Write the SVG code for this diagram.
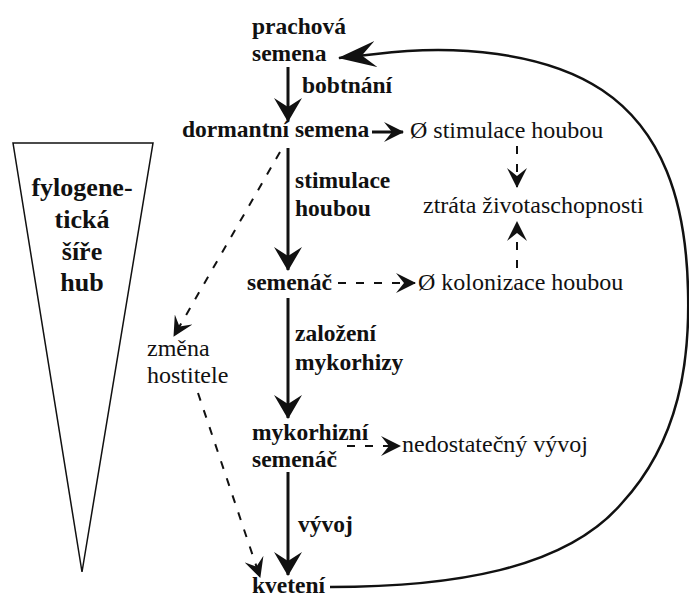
<svg xmlns="http://www.w3.org/2000/svg" width="689" height="598" viewBox="0 0 689 598">
<defs>
<marker id="ahBig" viewBox="0 0 24 28" refX="23" refY="14" markerWidth="24" markerHeight="28" markerUnits="userSpaceOnUse" orient="auto">
<path d="M0,0 L24,14 L0,28 L9,14 Z" fill="#111"/>
</marker>
<marker id="ahCurve" viewBox="0 0 38 26" refX="37" refY="13" markerWidth="38" markerHeight="26" markerUnits="userSpaceOnUse" orient="auto">
<path d="M0,0 L38,13 L0,26 L14,13 Z" fill="#111"/>
</marker>
<marker id="ahDash" viewBox="0 0 20 20" refX="19" refY="10" markerWidth="20" markerHeight="20" markerUnits="userSpaceOnUse" orient="auto">
<path d="M0,0 L20,10 L0,20 L8,10 Z" fill="#111"/>
</marker>
</defs>
<style>
text{fill:#111;}
.b{font-weight:bold;font-size:23.5px;}
.r{font-size:24px;}
.t{font-weight:bold;font-size:26px;text-anchor:middle;}
.solid{stroke:#111;stroke-width:3;fill:none;}
.dash{stroke:#111;stroke-width:2;fill:none;stroke-dasharray:8,10;}
.curve{stroke:#111;stroke-width:2.5;fill:none;}
</style>
<rect width="689" height="598" fill="#fff"/>
<g font-family="'Liberation Serif', 'DejaVu Serif', serif">
<g id="triangle">
<polygon points="13,143 153,143 82,572" fill="#fff" stroke="#111" stroke-width="1.5"/>
<text class="t" x="82" y="196">fylogene-</text>
<text class="t" x="82" y="228">tická</text>
<text class="t" x="82" y="260">šíře</text>
<text class="t" x="82" y="291">hub</text>
</g>
<g id="prachova-semena">
<text class="b" x="252" y="34">prachová</text>
<text class="b" x="252" y="61">semena</text>
</g>
<g id="dormantni-semena"><text class="b" x="182" y="137">dormantní semena</text></g>
<g id="stimulace-none"><text class="r" x="410" y="138">Ø stimulace houbou</text></g>
<g id="ztrata"><text class="r" x="423" y="213">ztráta životaschopnosti</text></g>
<g id="semenac"><text class="b" x="247" y="290">semenáč</text></g>
<g id="kolonizace-none"><text class="r" x="418" y="290">Ø kolonizace houbou</text></g>
<g id="zmena-hostitele">
<text class="r" x="147" y="356">změna</text>
<text class="r" x="147" y="383">hostitele</text>
</g>
<g id="mykorhizni-semenac">
<text class="b" x="252" y="440">mykorhizní</text>
<text class="b" x="252" y="467">semenáč</text>
</g>
<g id="nedostatecny"><text class="r" x="402" y="452">nedostatečný vývoj</text></g>
<g id="kveteni"><text class="b" x="252" y="593">kvetení</text></g>
<g id="edge-labels">
<text class="b" x="302" y="93">bobtnání</text>
<text class="b" x="295" y="188">stimulace</text>
<text class="b" x="295" y="216">houbou</text>
<text class="b" x="295" y="341">založení</text>
<text class="b" x="295" y="370">mykorhizy</text>
<text class="b" x="298" y="532">vývoj</text>
</g>
</g>
<g id="connectors">
<line class="solid" x1="288" y1="67" x2="288" y2="121" marker-end="url(#ahBig)"/>
<line class="solid" x1="288" y1="148" x2="288" y2="270" marker-end="url(#ahBig)"/>
<line class="solid" x1="288" y1="298" x2="288" y2="418" marker-end="url(#ahBig)"/>
<line class="solid" x1="288" y1="472" x2="288" y2="575" marker-end="url(#ahBig)"/>
<path class="curve" d="M330,587 C450,587 565,570 622,503 C680,440 690,360 688,290 C686,200 662,130 602,90 C545,52 455,44 376,54 L339,58" marker-end="url(#ahCurve)"/>
<line class="solid" x1="372" y1="132" x2="403" y2="132" stroke-width="2" marker-end="url(#ahDash)"/>
<line class="dash" x1="517" y1="146" x2="517" y2="187" marker-end="url(#ahDash)"/>
<line class="dash" x1="517" y1="268" x2="517" y2="222" marker-end="url(#ahDash)"/>
<line class="dash" x1="338" y1="283" x2="415" y2="283" marker-end="url(#ahDash)"/>
<line class="dash" x1="347" y1="446" x2="400" y2="446" marker-end="url(#ahDash)"/>
<line class="dash" x1="280" y1="152" x2="174" y2="336" marker-end="url(#ahDash)"/>
<line class="dash" x1="198" y1="393" x2="260" y2="577" marker-end="url(#ahDash)"/>
</g>
</svg>
